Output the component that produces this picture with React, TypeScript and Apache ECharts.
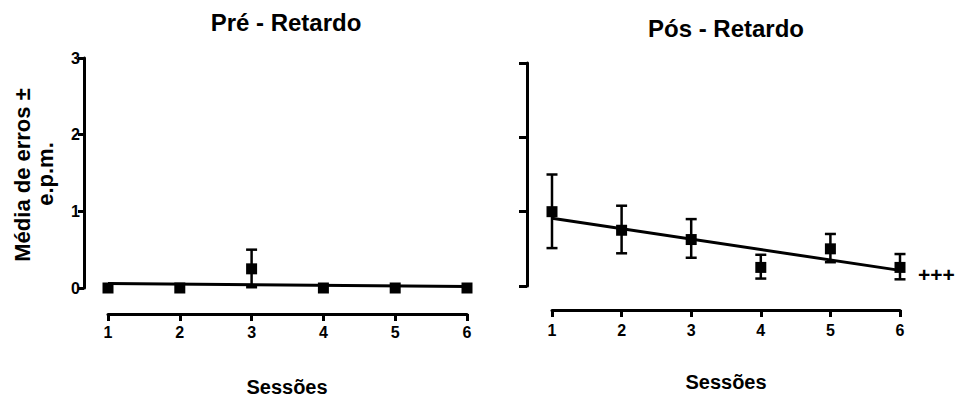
import React, { useEffect, useRef } from "react";
import * as echarts from "echarts";

const sessions = [1, 2, 3, 4, 5, 6];
const preMeans = [0, 0, 0.25, 0, 0, 0];
const preLow = [0, 0, 0.01, 0, 0, 0];
const preHigh = [0, 0, 0.5, 0, 0, 0];
const preFit = [0.06, 0.02];

const posMeans = [1.0, 0.75, 0.625, 0.25, 0.5, 0.25];
const posLow = [0.51, 0.44, 0.38, 0.1, 0.32, 0.09];
const posHigh = [1.5, 1.08, 0.9, 0.42, 0.7, 0.43];
const posFit = [0.91, 0.21];

const yTicks = [0, 1, 2, 3];
const titles = ["Pré - Retardo", "Pós - Retardo"];
const xName = "Sessões";
const yName1 = "Média de erros ±";
const yName2 = "e.p.m.";
const sigMark = "+++";

const FONT = "'Liberation Sans', Arial, Helvetica, sans-serif";

export default function App() {
  const ref = useRef<HTMLDivElement>(null);
  useEffect(() => {
    if (!ref.current) return;
    const chart = echarts.init(ref.current, null, { renderer: "svg" });

    const errRender = (params: any, api: any) => {
      const x = api.value(0);
      const lo = api.value(1);
      const hi = api.value(2);
      if (hi - lo <= 0) return null;
      const pLo = api.coord([x, lo]);
      const pHi = api.coord([x, hi]);
      const w = 5.5;
      const style = { stroke: "#000", lineWidth: 2.5 };
      return {
        type: "group",
        children: [
          { type: "line", shape: { x1: pLo[0], y1: pLo[1], x2: pHi[0], y2: pHi[1] }, style },
          { type: "line", shape: { x1: pHi[0] - w, y1: pHi[1], x2: pHi[0] + w, y2: pHi[1] }, style },
          { type: "line", shape: { x1: pLo[0] - w, y1: pLo[1], x2: pLo[0] + w, y2: pLo[1] }, style },
        ],
      };
    };

    const axisLine = { show: true, onZero: false, lineStyle: { color: "#000", width: 3 } };
    const axisTick = { show: true, length: 7, lineStyle: { color: "#000", width: 3 } };
    const labelStyle = { color: "#000", fontWeight: "bold" as const, fontSize: 16, fontFamily: FONT };

    const mkX = (idx: number, offset: number, margin: number) => ({
      type: "value",
      gridIndex: idx,
      min: 1,
      max: 6,
      interval: 1,
      position: "bottom",
      offset,
      axisLine,
      axisTick,
      axisLabel: { ...labelStyle, margin },
      splitLine: { show: false },
    });
    const mkY = (idx: number, offset: number, showLabel: boolean) => ({
      type: "value",
      gridIndex: idx,
      min: yTicks[0],
      max: yTicks[yTicks.length - 1],
      interval: 1,
      position: "left",
      offset,
      axisLine,
      axisTick: { ...axisTick, length: showLabel ? 6 : 8 },
      axisLabel: { ...labelStyle, show: showLabel, margin: 4 },
      splitLine: { show: false },
    });

    const mkSeries = (idx: number, means: number[], lows: number[], highs: number[], fit: number[]) => [
      {
        type: "line",
        xAxisIndex: idx,
        yAxisIndex: idx,
        data: [
          [sessions[0], fit[0]],
          [sessions[sessions.length - 1], fit[1]],
        ],
        symbol: "none",
        lineStyle: { color: "#000", width: 3 },
        silent: true,
        z: 2,
      },
      {
        type: "custom",
        xAxisIndex: idx,
        yAxisIndex: idx,
        data: sessions.map((s, i) => [s, lows[i], highs[i]]),
        renderItem: errRender,
        clip: false,
        z: 3,
      },
      {
        type: "scatter",
        xAxisIndex: idx,
        yAxisIndex: idx,
        data: sessions.map((s, i) => [s, means[i]]),
        symbol: "rect",
        symbolSize: 11,
        itemStyle: { color: "#000", opacity: 1 },
        clip: false,
        z: 4,
      },
    ];

    const txt = (x: number, y: number, text: string, size: number, extra: any = {}) => ({
      type: "text",
      x,
      y,
      style: {
        text,
        fill: "#000",
        font: `bold ${size}px ${FONT}`,
        align: "center",
        verticalAlign: "middle",
      },
      ...extra,
    });

    chart.setOption({
      animation: false,
      backgroundColor: "#fff",
      grid: [
        { left: 108, top: 58, width: 359, height: 230 },
        { left: 552, top: 63, width: 348, height: 223 },
      ],
      xAxis: [mkX(0, 26, 10), mkX(1, 24, 12)],
      yAxis: [mkY(0, 24, true), mkY(1, 25, false)],
      series: [
        ...mkSeries(0, preMeans, preLow, preHigh, preFit),
        ...mkSeries(1, posMeans, posLow, posHigh, posFit),
      ],
      graphic: [
        txt(286, 22, titles[0], 24),
        txt(726, 28, titles[1], 24),
        txt(287, 387, xName, 20),
        txt(726, 382, xName, 20),
        txt(22, 175, yName1, 22, { rotation: Math.PI / 2 }),
        txt(45, 174, yName2, 22, { rotation: Math.PI / 2 }),
        {
          type: "text",
          x: 918,
          y: 274,
          style: {
            text: sigMark,
            fill: "#000",
            font: `bold 21px ${FONT}`,
            align: "left",
            verticalAlign: "middle",
          },
        },
      ],
    });
    return () => chart.dispose();
  }, []);
  return (
    <div
      ref={ref}
      style={{ position: "absolute", left: 0, top: 0, width: 957, height: 398 }}
    />
  );
}
